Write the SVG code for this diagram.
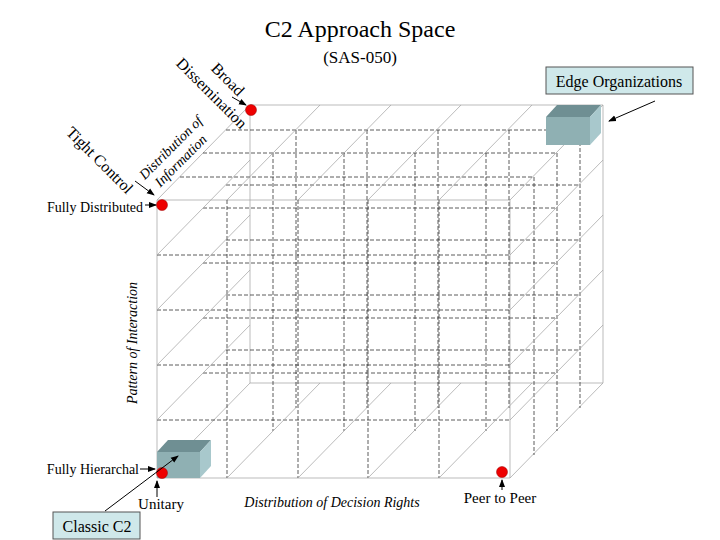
<svg xmlns="http://www.w3.org/2000/svg" width="720" height="540" viewBox="0 0 720 540">
<defs>
<marker id="ah" markerWidth="8" markerHeight="8" refX="7" refY="4" orient="auto" markerUnits="userSpaceOnUse"><path d="M0,1 L8,4 L0,7 Z" fill="#000"/></marker>
<style>
.t{font-family:"Liberation Serif",serif;fill:#000}
.d{stroke:#333;stroke-width:0.8;stroke-dasharray:4,2;fill:none}
.g{stroke:#aaa;stroke-width:0.8;fill:none}
.a{stroke:#000;stroke-width:1;marker-end:url(#ah)}
.lbl{fill:#cfe8ea;stroke:#555;stroke-width:1}
.dot{fill:#e00;stroke:#900;stroke-width:0.5}
</style>
</defs>
<rect width="720" height="540" fill="#fff"/>
<text class="t" x="360" y="37" font-size="24" text-anchor="middle">C2 Approach Space</text>
<text class="t" x="360" y="63" font-size="17" text-anchor="middle">(SAS-050)</text>
<g id="grid">
<!-- solid outline -->
<path class="g" d="M157,200 H510 V478 H157 Z M250,105 H603 V383 M157,200 L250,105 M510,200 L603,105 M510,478 L603,383 M157,478 L250,383 H603"/>
<path class="g" d="M250,105 V383"/>
<!-- dashed mid slices -->
<path class="d" d="M226,130 H580 V408 M203,153 H557 V431 M180,177 H534 V455"/>
<path class="d" d="M157,255 H510 M157,310 H510 M157,365 H510 M157,420 H510"/>
<path class="d" d="M226,185 H580 M226,240 H580 M226,295 H580 M226,350 H580"/>
<path class="d" d="M203,208 H557 M203,263 H557 M203,318 H557 M203,373 H557"/>
<path class="d" d="M227,200 V478 M298,200 V478 M368,200 V478 M439,200 V478"/>
<path class="d" d="M296,130 V408 M367,130 V408 M438,130 V408 M509,130 V408"/>
<path class="d" d="M273,153 V431 M344,153 V431 M415,153 V431 M486,153 V431"/>
<!-- diagonals -->
<path class="g" d="M227,478 L320,383 M298,478 L391,383 M368,478 L461,383 M439,478 L532,383 M227,200 L320,105 M298,200 L391,105 M368,200 L461,105 M439,200 L532,105 M157,255 L250,160 M157,310 L250,215 M157,365 L250,270 M157,420 L250,325 M510,255 L603,160 M510,310 L603,215 M510,365 L603,270 M510,420 L603,325"/>
</g>
<g id="hier-box">
<path d="M157,452 L168,440 H211 L200,452 Z" fill="#6f8f93"/>
<path d="M200,452 L211,440 V466 L200,478 Z" fill="#a8c8cc"/>
<rect x="157" y="452" width="43" height="26" fill="#8fb0b3"/>
</g>
<g id="edge-box">
<path d="M546,117 L557,105 H601 L590,117 Z" fill="#6f8f93"/>
<path d="M590,117 L601,105 V133 L590,145 Z" fill="#a8c8cc"/>
<rect x="546" y="117" width="44" height="28" fill="#8fb0b3"/>
</g>
<g id="dots">
<circle class="dot" cx="251" cy="110" r="5.5"/>
<circle class="dot" cx="162" cy="205" r="5.5"/>
<circle class="dot" cx="162" cy="473" r="5.5"/>
<circle class="dot" cx="502" cy="472" r="5.5"/>
</g>
<g id="labels">
<g id="edge-org"><rect class="lbl" x="546" y="67" width="147" height="27"/><text class="t" x="619" y="87" font-size="16" text-anchor="middle">Edge Organizations</text></g>
<g id="classic"><rect class="lbl" x="53" y="512" width="87" height="27"/><text class="t" x="97" y="532" font-size="16" text-anchor="middle">Classic C2</text></g>
<text class="t" x="143" y="212" font-size="14" text-anchor="end">Fully Distributed</text>
<text class="t" x="139" y="474" font-size="14" text-anchor="end">Fully Hierarchal</text>
<text class="t" x="161" y="509" font-size="15" text-anchor="middle">Unitary</text>
<text class="t" x="500" y="503" font-size="15" text-anchor="middle">Peer to Peer</text>
<text class="t" x="332" y="507" font-size="14" font-style="italic" text-anchor="middle">Distribution of Decision Rights</text>
<text class="t" font-size="14" font-style="italic" text-anchor="middle" transform="translate(137,343) rotate(-90)">Pattern of Interaction</text>
<text class="t" font-size="16" text-anchor="middle" transform="translate(96,164) rotate(45)">Tight Control</text>
<text class="t" font-size="14" font-style="italic" text-anchor="middle" transform="translate(174,151) rotate(-45)">Distribution of</text>
<text class="t" font-size="14" font-style="italic" text-anchor="middle" transform="translate(184,164) rotate(-45)">Information</text>
<text class="t" font-size="16" text-anchor="middle" transform="translate(224,83) rotate(45)">Broad</text>
<text class="t" font-size="16" text-anchor="middle" transform="translate(208,97) rotate(45)">Dissemination</text>
</g>
<g id="connectors">
<line class="a" x1="655" y1="101" x2="609" y2="121"/>
<line class="a" x1="135" y1="181" x2="154" y2="195"/>
<line class="a" x1="145" y1="205" x2="156" y2="205"/>
<line class="a" x1="232" y1="97" x2="246" y2="105"/>
<line class="a" x1="140" y1="469" x2="155" y2="469"/>
<line class="a" x1="157" y1="497" x2="157" y2="481"/>
<line class="a" x1="105" y1="511" x2="178" y2="456"/>
<line class="a" x1="502" y1="490" x2="502" y2="480"/>
</g>
</svg>
